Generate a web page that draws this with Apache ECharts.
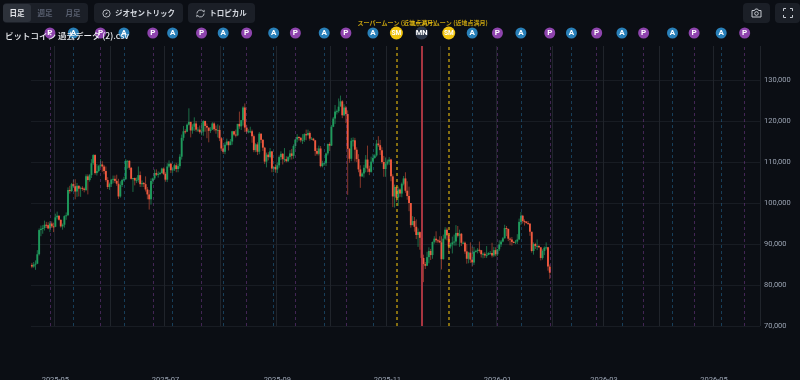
<!DOCTYPE html>
<html>
<head>
<meta charset="utf-8">
<script src="https://cdn.jsdelivr.net/npm/echarts@6/dist/echarts.min.js"></script>
<style>
html,body{margin:0;padding:0;background:#0b0e14;overflow:hidden;}
#wrap{position:relative;width:800px;height:380px;font-family:"Noto Sans CJK JP",sans-serif;}
#main{position:absolute;left:0;top:0;width:800px;height:380px;}
.box{position:absolute;top:3px;height:20px;background:#1b1f27;border-radius:4px;color:#d5d9e0;font-size:7.5px;font-weight:700;line-height:20px;text-align:center;}
.tab{position:absolute;top:1px;height:18px;width:28px;line-height:18px;color:#596070;border-radius:3px;}
.tab.on{background:#2d323b;color:#e8eaee;}
.box svg{vertical-align:-2px;margin-right:4px;}
#name{position:absolute;left:5px;top:29px;color:#eceef2;font-size:8.5px;font-weight:500;line-height:13px;white-space:nowrap;}
</style>
</head>
<body>
<div id="wrap">
    <div id="main"></div>
    <div class="box" style="left:3px;width:85px;">
        <span class="tab on" style="left:0;">日足</span>
        <span class="tab" style="left:28px;">週足</span>
        <span class="tab" style="left:56px;">月足</span>
    </div>
    <div class="box" style="left:94px;width:89px;"><svg width="9" height="9" viewBox="0 0 10 10"><circle cx="5" cy="5" r="4" fill="none" stroke="#c5c9d0" stroke-width="1"/><path d="M3.5 6.5L4.5 4.5 6.5 3.5 5.5 5.5z" fill="#c5c9d0"/></svg>ジオセントリック</div>
    <div class="box" style="left:188px;width:67px;"><svg width="9" height="9" viewBox="0 0 10 10"><path d="M1 5a4 4 0 0 1 7-2.500L9 3.500V1M9 5a4 4 0 0 1-7 2.500L1 6.500V9" fill="none" stroke="#c5c9d0" stroke-width="1"/></svg>トロピカル</div>
    <div class="box" style="left:743px;width:27px;"><svg style="margin:0;vertical-align:-2px" width="11" height="10" viewBox="0 0 11 10"><path d="M1 2.500h2.500l1-1.500h2l1 1.500H10v6.500H1z" fill="none" stroke="#c5c9d0" stroke-width="1"/><circle cx="5.500" cy="5.500" r="1.800" fill="none" stroke="#c5c9d0" stroke-width="1"/></svg></div>
    <div class="box" style="left:775px;width:25px;"><svg style="margin:0;vertical-align:-2px" width="10" height="10" viewBox="0 0 10 10"><path d="M0.500 3V0.500H3M7 0.500H9.500V3M9.500 7V9.500H7M3 9.500H0.500V7" fill="none" stroke="#c5c9d0" stroke-width="1"/></svg></div>
    <div id="name">ビットコイン 過去データ (2).csv</div>
</div>
<script>
// 2025-04-18 から 2026-01-30 までの日足（単位: 千ドル）
const opens=[
    84.9,84.5,85.0,85.2,87.5,93.4,93.7,93.9,94.7,94.6,93.8,95.0,94.3,
    94.2,96.5,96.9,95.9,94.3,94.7,96.8,97.0,103.2,102.9,104.6,104.1,102.8,104.2,103.5,103.7,103.5,103.2,106.5,105.6,106.8,109.7,111.7,107.3,107.8,109.0,109.4,108.9,107.8,105.6,103.9,
    104.6,105.7,105.9,105.4,104.7,101.6,104.4,105.6,105.8,110.3,110.3,108.6,105.9,106.1,105.5,105.6,106.8,104.6,104.9,104.6,103.3,102.1,100.9,105.4,106.0,107.3,106.9,107.1,107.3,108.4,
    107.1,105.7,108.9,109.6,108.0,108.2,109.2,108.3,109.0,111.3,115.9,117.5,117.4,119.1,119.8,117.7,118.6,119.4,117.9,117.9,117.3,117.4,120.0,118.8,118.4,117.6,117.9,119.4,118.0,117.8,117.8,
    115.8,113.3,112.5,114.2,115.0,114.1,115.0,117.5,116.7,116.5,119.3,118.7,120.2,123.3,118.4,117.4,117.5,117.5,116.3,112.9,114.3,112.5,116.9,115.4,113.5,110.1,111.8,111.2,112.6,108.4,108.8,
    108.2,109.2,111.2,112.0,110.7,110.7,110.2,111.2,112.1,111.5,113.9,115.5,116.1,115.9,115.3,115.4,116.8,116.5,117.1,115.7,115.7,115.3,112.7,112.0,113.3,109.0,109.7,109.7,112.1,114.4,
    114.0,118.6,120.6,122.3,122.4,123.5,124.8,121.4,123.3,121.7,113.2,110.8,115.2,115.3,113.0,110.7,108.2,106.5,107.2,108.6,110.6,108.4,107.6,110.1,111.0,111.6,114.5,114.1,112.9,110.0,108.3,
    109.6,110.1,110.6,106.5,101.6,103.9,101.3,103.3,102.3,104.7,106.0,103.0,101.7,100.0,94.6,95.6,94.2,92.2,92.9,91.5,86.6,85.1,84.7,86.8,88.3,87.3,90.5,91.3,90.9,90.8,
    90.4,86.3,91.3,93.5,92.1,89.4,89.9,90.4,90.6,92.7,92.0,92.5,90.3,90.3,88.2,86.4,87.9,86.2,85.5,88.1,88.3,88.6,88.5,87.5,87.6,87.2,87.3,87.8,87.8,87.2,88.5,
    87.5,88.7,89.9,90.6,91.4,93.9,93.7,91.3,91.1,90.5,90.4,90.6,91.1,95.4,96.9,95.6,95.5,95.1,95.0,93.0,88.3,90.0,89.5,89.5,89.2,86.6,88.3,89.1,89.2,84.5
]
const closes=[
    84.5,85.0,85.2,87.5,93.4,93.7,93.9,94.7,94.6,93.8,95.0,94.3,94.2,
    96.5,96.9,95.9,94.3,94.7,96.8,97.0,103.2,102.9,104.6,104.1,102.8,104.2,103.5,103.7,103.5,103.2,106.5,105.6,106.8,109.7,111.7,107.3,107.8,109.0,109.4,108.9,107.8,105.6,103.9,104.6,
    105.7,105.9,105.4,104.7,101.6,104.4,105.6,105.8,110.3,110.3,108.6,105.9,106.1,105.5,105.6,106.8,104.6,104.9,104.6,103.3,102.1,100.9,105.4,106.0,107.3,106.9,107.1,107.3,108.4,107.1,
    105.7,108.9,109.6,108.0,108.2,109.2,108.3,109.0,111.3,115.9,117.5,117.4,119.1,119.8,117.7,118.6,119.4,117.9,117.9,117.3,117.4,120.0,118.8,118.4,117.6,117.9,119.4,118.0,117.8,117.8,115.8,
    113.3,112.5,114.2,115.0,114.1,115.0,117.5,116.7,116.5,119.3,118.7,120.2,123.3,118.4,117.4,117.5,117.5,116.3,112.9,114.3,112.5,116.9,115.4,113.5,110.1,111.8,111.2,112.6,108.4,108.8,108.2,
    109.2,111.2,112.0,110.7,110.7,110.2,111.2,112.1,111.5,113.9,115.5,116.1,115.9,115.3,115.4,116.8,116.5,117.1,115.7,115.7,115.3,112.7,112.0,113.3,109.0,109.7,109.7,112.1,114.4,114.0,
    118.6,120.6,122.3,122.4,123.5,124.8,121.4,123.3,121.7,113.2,110.8,115.2,115.3,113.0,110.7,108.2,106.5,107.2,108.6,110.6,108.4,107.6,110.1,111.0,111.6,114.5,114.1,112.9,110.0,108.3,109.6,
    110.1,110.6,106.5,101.6,103.9,101.3,103.3,102.3,104.7,106.0,103.0,101.7,100.0,94.6,95.6,94.2,92.2,92.9,91.5,86.6,85.1,84.7,86.8,88.3,87.3,90.5,91.3,90.9,90.8,90.4,
    86.3,91.3,93.5,92.1,89.4,89.9,90.4,90.6,92.7,92.0,92.5,90.3,90.3,88.2,86.4,87.9,86.2,85.5,88.1,88.3,88.6,88.5,87.5,87.6,87.2,87.3,87.8,87.8,87.2,88.5,87.5,
    88.7,89.9,90.6,91.4,93.9,93.7,91.3,91.1,90.5,90.4,90.6,91.1,95.4,96.9,95.6,95.5,95.1,95.0,93.0,88.3,90.0,89.5,89.5,89.2,86.6,88.3,89.1,89.2,84.5,83.0
]
const lows=[
    84.1,84.2,83.7,85.1,87.2,91.9,92.5,93.3,93.9,93.6,92.9,93.9,92.9,
    94.1,96.0,95.7,94.0,93.5,94.0,95.9,96.9,102.3,102.7,103.8,100.9,101.5,101.6,101.5,103.0,102.6,102.9,102.1,105.2,106.1,109.3,106.9,106.7,107.5,108.7,107.6,107.0,105.2,103.4,103.2,
    103.9,104.8,104.9,104.2,101.0,101.3,103.9,105.3,105.6,108.4,108.1,105.7,102.7,104.3,104.9,105.0,103.9,103.9,103.9,102.8,100.9,98.4,99.6,104.6,105.6,106.6,106.2,106.8,107.2,106.8,
    105.2,105.1,108.6,107.3,107.3,107.8,107.5,107.5,108.4,110.6,115.2,116.9,117.3,118.9,116.0,116.9,117.6,117.4,117.3,116.9,116.5,116.4,117.4,115.8,114.8,117.1,117.8,117.5,116.9,116.0,115.1,
    112.7,112.0,111.9,114.0,112.8,114.2,114.2,116.4,116.0,116.3,118.1,117.8,118.9,117.3,116.9,117.0,117.1,114.7,112.4,112.4,111.7,111.9,114.6,112.7,109.5,108.7,110.4,110.9,107.5,107.5,107.4,
    107.3,108.6,110.5,109.4,110.0,109.9,110.0,110.6,110.6,110.8,113.3,114.8,115.2,114.8,114.4,114.9,115.3,116.5,115.2,115.4,115.1,111.5,111.6,111.6,108.7,108.7,109.1,109.0,111.6,112.7,
    113.9,118.5,119.3,121.6,122.0,123.9,120.7,121.2,119.5,102.0,109.8,110.2,113.8,110.1,110.0,107.5,103.7,106.4,106.2,107.5,107.5,106.8,107.4,109.8,110.8,111.3,113.7,111.7,109.6,106.4,106.4,
    109.2,109.3,105.3,99.0,98.9,100.3,99.3,101.5,101.4,104.3,102.5,100.8,98.0,94.0,94.6,93.0,91.2,89.3,88.6,86.1,80.7,83.9,84.7,85.3,86.1,86.4,90.1,90.3,90.2,90.2,
    83.8,86.2,91.0,90.9,88.1,88.9,87.7,89.6,89.6,91.6,89.3,89.5,90.0,87.6,85.2,85.3,85.4,84.5,84.9,87.9,87.7,87.9,86.7,86.5,86.6,86.6,87.4,87.4,86.7,86.8,87.0,
    87.1,88.3,89.3,90.4,91.3,91.9,90.7,89.7,89.6,90.2,90.0,90.0,91.0,94.6,95.0,94.5,95.0,94.7,92.0,87.9,87.4,88.8,88.5,89.0,86.0,86.2,87.3,88.6,83.5,81.5
]
const highs=[
    85.4,85.6,86.0,88.5,93.8,94.5,94.6,95.7,95.4,95.3,95.6,95.5,95.2,
    97.4,97.9,97.0,96.0,95.0,97.0,97.7,103.8,104.2,104.9,105.7,105.8,104.9,104.3,104.0,104.1,103.8,107.0,107.0,107.1,110.7,111.9,111.9,109.5,109.3,110.7,110.2,109.3,108.9,106.3,105.0,
    105.9,106.7,106.7,106.9,105.9,105.3,105.9,106.4,110.7,110.4,110.4,108.8,106.1,106.2,106.2,108.9,107.7,105.5,105.1,106.5,103.9,103.2,106.0,106.2,108.2,108.2,107.7,107.6,108.6,108.7,
    107.5,109.7,110.4,109.8,108.6,109.6,109.8,109.6,111.9,116.7,118.8,118.0,119.4,123.1,119.5,119.2,120.9,120.0,118.5,118.9,119.6,120.2,120.1,119.4,118.4,118.5,119.7,119.7,118.9,119.2,118.9,
    116.1,114.0,114.8,115.7,115.1,115.6,117.6,117.6,117.9,119.3,122.3,120.2,123.6,124.3,119.1,118.0,118.6,117.9,116.7,114.6,114.8,117.3,117.0,115.6,113.7,112.3,112.4,113.4,112.6,109.0,109.4,
    109.9,111.6,112.6,112.2,113.4,111.4,111.5,112.9,113.2,114.3,115.5,116.8,116.3,116.1,116.8,117.0,117.9,117.9,117.5,116.1,115.9,115.4,113.4,114.0,113.9,110.3,109.8,112.3,114.5,114.8,
    119.0,121.0,123.9,122.8,125.5,126.2,125.1,124.1,123.7,122.6,113.4,115.9,116.0,115.9,113.6,111.9,109.2,107.5,109.3,111.7,114.0,109.1,111.3,112.0,111.9,115.4,116.3,115.4,113.6,111.5,111.1,
    110.6,111.2,110.8,107.0,104.5,104.2,104.0,103.6,105.0,106.6,107.5,105.3,104.0,99.8,96.8,96.6,96.0,93.8,93.1,93.0,87.4,85.6,88.1,89.2,88.8,90.6,91.9,93.1,91.2,91.9,
    91.9,92.3,94.1,94.0,92.7,90.3,91.8,92.3,94.6,94.4,93.5,92.7,90.6,90.6,90.0,88.1,90.4,89.4,89.3,88.6,89.0,90.6,88.0,87.9,88.0,89.5,88.0,88.3,90.3,89.3,89.2,
    88.8,90.9,91.0,91.7,94.7,94.4,93.7,91.6,91.7,90.7,91.0,92.4,96.2,97.8,97.1,96.0,95.5,95.6,93.2,92.7,90.4,90.3,91.1,89.8,89.2,88.7,89.4,90.4,89.3,85.0
]
// 月の近地点(P)・遠地点(A)など
const perigeeDates=['2025-04-28','2025-05-26','2025-06-24','2025-07-21','2025-08-15','2025-09-11','2025-10-09','2026-01-01','2026-01-30','2026-02-25','2026-03-23','2026-04-20','2026-05-18']
const apogeeDates=['2025-05-11','2025-06-08','2025-07-05','2025-08-02','2025-08-30','2025-09-27','2025-10-24','2025-12-18','2026-01-14','2026-02-11','2026-03-11','2026-04-08','2026-05-05']
const superMoonDates=['2025-11-06','2025-12-05']
const microMoonDates=['2025-11-20']
const superMoonLabel='スーパームーン (近地点満月)'

const categories=[]
for(let d=new Date(Date.UTC(2025,3,18));categories.length<404;d.setUTCDate(d.getUTCDate()+1)){
    categories.push(d.toISOString().slice(0,10))
}
const candleData=closes.map((c,i)=>[categories[i],opens[i]*1000,c*1000,lows[i]*1000,highs[i]*1000])

const renderCandle=(params,api)=>{
    const i=api.value(0)
    const o=api.coord([i,api.value(1)])
    const c=api.coord([i,api.value(2)])
    const l=api.coord([i,api.value(3)])
    const h=api.coord([i,api.value(4)])
    const up=api.value(2)>=api.value(1)
    const bodyTop=Math.min(o[1],c[1])
    const bodyHeight=Math.max(Math.abs(o[1]-c[1]),1)
    return {
        type:'group',
        children:[
            {
                type:'line',
                shape:{x1:o[0],y1:h[1],x2:o[0],y2:l[1]},
                style:{stroke:up?'rgba(34,150,92,0.7)':'rgba(200,78,56,0.65)',lineWidth:1}
            },
            {
                type:'rect',
                shape:{x:o[0]-0.95,y:bodyTop,width:1.9,height:bodyHeight},
                style:{fill:up?'#1f9a5c':'#f0593f'}
            }
        ]
    }
}
const vLine=(dates,color,width,type)=>dates.map(d=>({
    xAxis:d,
    lineStyle:{color:color,width:width,type:type}
}))
const moonSeries=(name,dates,color,size,text,fontSize)=>({
    name:name,
    type:'scatter',
    xAxisIndex:1,
    yAxisIndex:1,
    symbolSize:size,
    itemStyle:{color:color,opacity:1},
    label:{show:true,position:'inside',formatter:text,color:'#fff',fontSize:fontSize,fontWeight:'bold',fontFamily:'Roboto'},
    data:dates.map(d=>[d,0.5]),
    silent:true
})

const chart=echarts.init(document.getElementById('main'),null,{renderer:'canvas'})
chart.setOption({
    backgroundColor:'#0b0e14',
    animation:false,
    grid:[
        {left:31,right:40,top:46,bottom:54,outerBoundsMode:'none'},
        {left:31,right:40,top:23,height:20,outerBoundsMode:'none'}
    ],
    xAxis:[
        {
            type:'category',
            data:categories,
            boundaryGap:true,
            axisLine:{show:false},
            axisTick:{show:false},
            axisLabel:{
                margin:50,
                color:'#9aa3b2',
                fontSize:7.5,
                fontFamily:'Roboto',
                interval:(i,v)=>v.endsWith('-01')&&Number(v.slice(5,7))%2===1,
                formatter:v=>v.slice(0,7)
            },
            splitLine:{
                show:true,
                interval:(i,v)=>v.endsWith('-01'),
                lineStyle:{color:'#20242b',width:1}
            }
        },
        {gridIndex:1,type:'category',data:categories,show:false}
    ],
    yAxis:[
        {
            type:'value',
            position:'right',
            min:70000,
            max:138300,
            interval:10000,
            axisLine:{show:false},
            axisTick:{show:false},
            axisLabel:{
                margin:4,
                color:'#9aa3b2',
                fontSize:7.5,
                fontFamily:'Roboto',
                showMaxLabel:false,
                formatter:v=>v.toLocaleString('en-US')
            },
            splitLine:{show:true,showMaxLine:false,lineStyle:{color:'#181c23',width:1}}
        },
        {gridIndex:1,type:'value',min:0,max:1,show:false}
    ],
    series:[
        {
            // 補助線だけのシリーズ（ローソク足の下に敷く）
            type:'line',
            data:[],
            silent:true,
            markLine:{
                silent:true,
                symbol:'none',
                label:{show:false},
                data:[
                    ...vLine(perigeeDates,'rgba(142,68,173,0.42)',1,[3,3]),
                    ...vLine(apogeeDates,'rgba(41,128,185,0.42)',1,[3,3]),
                    ...vLine(superMoonDates,'rgba(230,185,15,0.75)',1.5,[3,3]),
                    ...vLine(microMoonDates,'#b93a46',1.8,'solid')
                ]
            }
        },
        {
            type:'custom',
            renderItem:renderCandle,
            encode:{x:0,y:[1,2,3,4]},
            data:candleData,
            silent:true,
            z:3
        },
        moonSeries('P',perigeeDates,'#8e44ad',11,'P',8),
        moonSeries('A',apogeeDates,'#2980b9',11,'A',8),
        moonSeries('MN',microMoonDates,'#2c3648',13,'MN',7.5),
        moonSeries('SM',superMoonDates,'#f1c40f',13,'SM',6.5),
        {
            type:'scatter',
            xAxisIndex:1,
            yAxisIndex:1,
            symbolSize:13,
            itemStyle:{color:'rgba(0,0,0,0)'},
            label:{show:true,position:'top',distance:1,formatter:superMoonLabel,color:'#f1c40f',fontSize:6,fontWeight:'bold',fontFamily:'Noto Sans CJK JP'},
            data:superMoonDates.map(d=>[d,0.5]),
            silent:true,
            z:1
        }
    ]
})
</script>
</body>
</html>
